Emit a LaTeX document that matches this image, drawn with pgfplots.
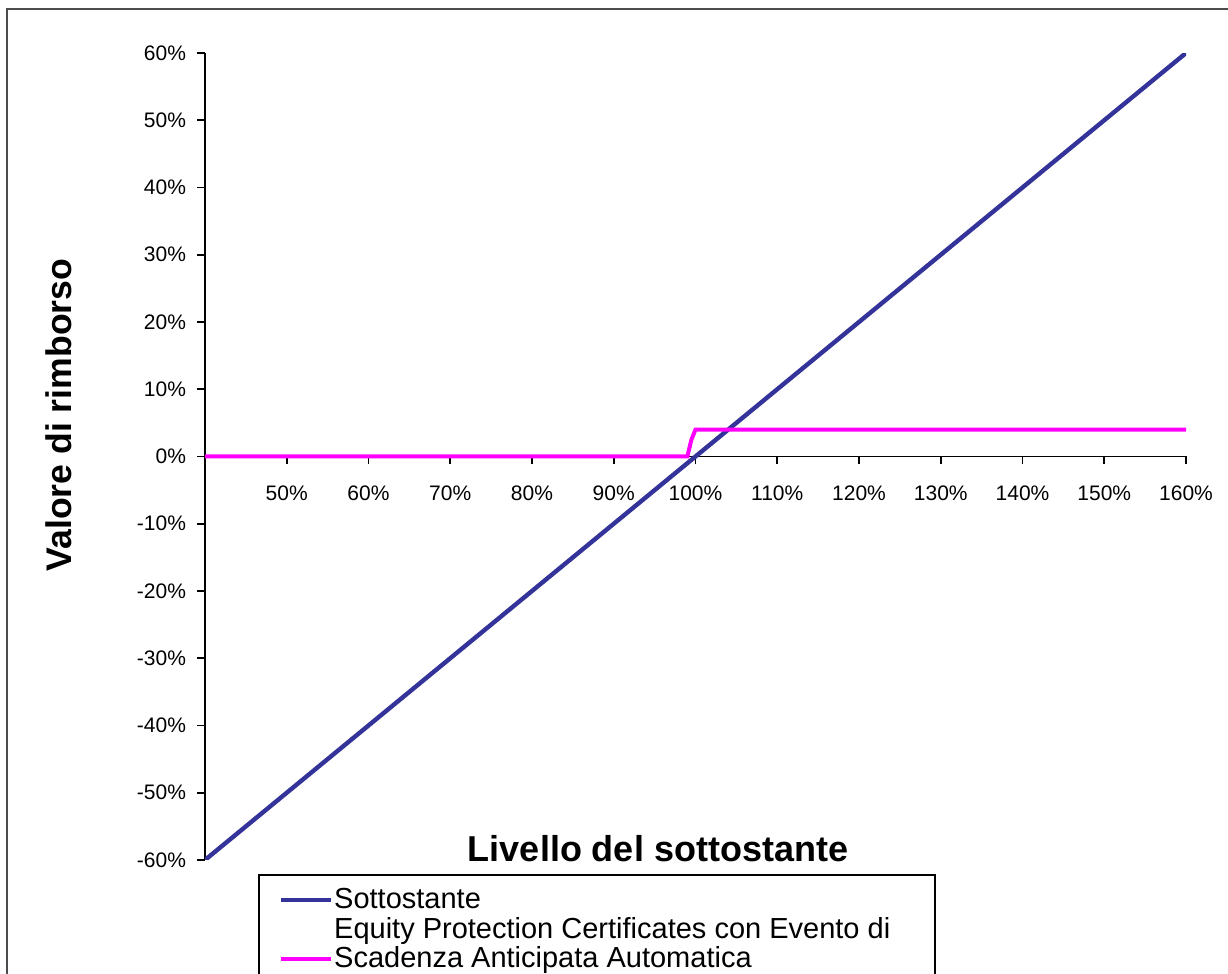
\documentclass[border=0pt]{standalone}
\usepackage{fontspec}
\setmainfont{Liberation Sans}
\usepackage{pgfplots}
\pgfplotsset{compat=1.18}
\definecolor{blueline}{RGB}{51,51,153}
\definecolor{magline}{RGB}{255,0,255}

\pgfplotstableread{
x y
40 -60
50 -50
60 -40
70 -30
80 -20
90 -10
100 0
110 10
120 20
130 30
140 40
150 50
160 60
}\sottostante

\pgfplotstableread{
x y
40 0
99 0
99.5 2.5
100 4
160 4
}\certificate

\begin{document}
\begin{tikzpicture}[x=1pt,y=1pt]
\useasboundingbox (0,0) rectangle (614,487);
\draw[line width=1.1pt, black!70] (3.5,-5) -- (3.5,482.5) -- (620,482.5);
\node[rotate=90, font=\fontsize{17.8}{20}\selectfont\bfseries] at (29.25,279.5) {Valore di rimborso};
\begin{axis}[
  at={(102.5pt,57pt)}, anchor=south west,
  scale only axis, width=490.5pt, height=403.5pt,
  xmin=40, xmax=160, ymin=-60, ymax=60,
  axis x line=middle, axis y line=left,
  axis line style={-, line width=0.8pt, black},
  hide obscured x ticks=false, hide obscured y ticks=false,
  tick align=outside,
  major tick length=4pt,
  tick style={line width=0.8pt, black},
  xtick={50,60,...,160},
  xticklabels={50\%,60\%,70\%,80\%,90\%,100\%,110\%,120\%,130\%,140\%,150\%,160\%},
  ytick={-60,-50,...,60},
  yticklabels={-60\%,-50\%,-40\%,-30\%,-20\%,-10\%,0\%,10\%,20\%,30\%,40\%,50\%,60\%},
  ticklabel style={font=\fontsize{10.5}{12}\selectfont},
  xticklabel style={yshift=-7pt},
  yticklabel style={xshift=-2pt},
  legend cell align=left,
  legend style={at={(0.054,-0.0173)}, anchor=north west, draw=black, line width=0.8pt,
    font=\fontsize{14.5}{13.5}\selectfont, row sep=2pt, inner xsep=10pt, inner ysep=6pt,
    nodes={inner sep=0.5pt}, cells={anchor=base west}},
  legend image code/.code={\draw[#1, line width=2.2pt] (0pt,4pt) -- (25pt,4pt);},
]
\addplot[blueline, line width=2.2pt] table[x=x,y=y] {\sottostante};
\addlegendentry{Sottostante}
\addplot[magline, line width=2pt] table[x=x,y=y] {\certificate};
\addlegendentry{\vbox{\hbox{Equity Protection Certificates con Evento di\hspace{12pt}}\hbox{Scadenza Anticipata Automatica}}}
\end{axis}
\node[font=\fontsize{18}{21}\selectfont\bfseries] at (329,62.5) {Livello del sottostante};
\end{tikzpicture}
\end{document}
